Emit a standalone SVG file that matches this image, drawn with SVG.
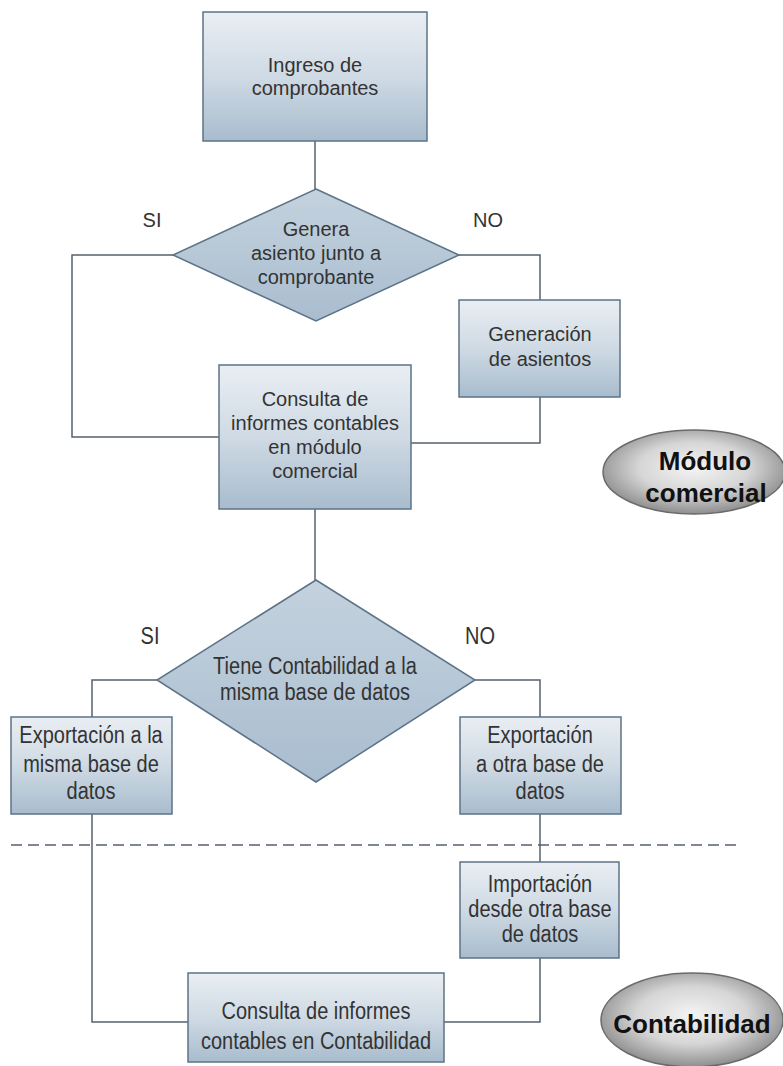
<svg xmlns="http://www.w3.org/2000/svg" width="783" height="1066" viewBox="0 0 783 1066">
<defs>
<linearGradient id="boxg" x1="0" y1="0" x2="0" y2="1">
<stop offset="0" stop-color="#e9eef3"/>
<stop offset="0.5" stop-color="#cfdae4"/>
<stop offset="1" stop-color="#a8bcce"/>
</linearGradient>
<linearGradient id="diag" x1="0" y1="0" x2="0" y2="1">
<stop offset="0" stop-color="#c4d2de"/>
<stop offset="1" stop-color="#a9bdcf"/>
</linearGradient>
<radialGradient id="ellg" cx="0.5" cy="0.45" r="0.55">
<stop offset="0" stop-color="#f4f4f4"/>
<stop offset="0.55" stop-color="#d6d6d6"/>
<stop offset="1" stop-color="#8e8e8e"/>
</radialGradient>
</defs>
<style>
.box{fill:url(#boxg);stroke:#5d7387;stroke-width:1.5}
.dia{fill:url(#diag);stroke:#5d7387;stroke-width:1.5}
.ell{fill:url(#ellg);stroke:#6a6a6a;stroke-width:1.5}
.t{font-family:"Liberation Sans",Arial,sans-serif;font-size:20px;fill:#333;text-anchor:middle}
.b{font-family:"Liberation Sans",Arial,sans-serif;font-size:26px;font-weight:bold;fill:#111;text-anchor:middle}
.c{fill:none;stroke:#55626e;stroke-width:1.5}
.d{fill:none;stroke:#55626e;stroke-width:1.5;stroke-dasharray:11 6}
</style>
<g id="connectors">
<path class="c" d="M315,141 V189"/>
<path class="c" d="M173,255 H72 V437 H219"/>
<path class="c" d="M459,255 H540 V300"/>
<path class="c" d="M540,397 V443 H411"/>
<path class="c" d="M315,509 V580"/>
<path class="c" d="M157,680 H92 V717"/>
<path class="c" d="M475,680 H540 V717"/>
<path class="c" d="M92,814 V1022 H188"/>
<path class="c" d="M540,814 V862"/>
<path class="c" d="M540,958 V1022 H444"/>
<path class="d" d="M11,845 H742"/>
</g>
<g id="n_ingreso">
<rect class="box" x="203" y="12" width="224" height="129"/>
<text class="t" x="315" y="72">Ingreso de</text>
<text class="t" x="315" y="95">comprobantes</text>
</g>
<g id="n_genera">
<polygon class="dia" points="316,189 459,255 316,321 173,255"/>
<text class="t" x="316" y="236">Genera</text>
<text class="t" x="316" y="260">asiento junto a</text>
<text class="t" x="316" y="284">comprobante</text>
</g>
<g id="l_si1"><text class="t" x="152" y="227">SI</text></g>
<g id="l_no1"><text class="t" x="488" y="227">NO</text></g>
<g id="n_generacion">
<rect class="box" x="459" y="300" width="161" height="97"/>
<text class="t" x="540" y="341">Generación</text>
<text class="t" x="540" y="366">de asientos</text>
</g>
<g id="n_consulta1">
<rect class="box" x="219" y="365" width="192" height="144"/>
<text class="t" x="315" y="406">Consulta de</text>
<text class="t" x="315" y="430">informes contables</text>
<text class="t" x="315" y="454">en módulo</text>
<text class="t" x="315" y="478">comercial</text>
</g>
<g id="n_modulo">
<ellipse class="ell" cx="694" cy="472" rx="91" ry="42"/>
<text class="b" x="705" y="470">Módulo</text>
<text class="b" x="706" y="502">comercial</text>
</g>
<g id="n_tiene">
<polygon class="dia" points="316,580 475,680 316,782 157,680"/>
<text class="t" transform="translate(315 674) scale(1 1.15)">Tiene Contabilidad a la</text>
<text class="t" transform="translate(315 700) scale(1 1.15)">misma base de datos</text>
</g>
<g id="l_si2"><text class="t" transform="translate(150 644) scale(1 1.15)">SI</text></g>
<g id="l_no2"><text class="t" transform="translate(480 644) scale(1 1.15)">NO</text></g>
<g id="n_export_misma">
<rect class="box" x="11" y="717" width="161" height="97"/>
<text class="t" transform="translate(91 743) scale(1 1.15)">Exportación a la</text>
<text class="t" transform="translate(91 772) scale(1 1.15)">misma base de</text>
<text class="t" transform="translate(91 799) scale(1 1.15)">datos</text>
</g>
<g id="n_export_otra">
<rect class="box" x="460" y="717" width="161" height="97"/>
<text class="t" transform="translate(540 743) scale(1 1.15)">Exportación</text>
<text class="t" transform="translate(540 772) scale(1 1.15)">a otra base de</text>
<text class="t" transform="translate(540 799) scale(1 1.15)">datos</text>
</g>
<g id="n_importacion">
<rect class="box" x="460" y="862" width="159" height="96"/>
<text class="t" transform="translate(540 892) scale(1 1.15)">Importación</text>
<text class="t" transform="translate(540 917) scale(1 1.15)">desde otra base</text>
<text class="t" transform="translate(540 942) scale(1 1.15)">de datos</text>
</g>
<g id="n_consulta2">
<rect class="box" x="188" y="973" width="256" height="89"/>
<text class="t" transform="translate(316 1019) scale(1 1.15)">Consulta de informes</text>
<text class="t" transform="translate(316 1049) scale(1 1.15)">contables en Contabilidad</text>
</g>
<g id="n_contabilidad">
<ellipse class="ell" cx="692" cy="1020" rx="91" ry="47"/>
<text class="b" x="692" y="1033">Contabilidad</text>
</g>
</svg>
